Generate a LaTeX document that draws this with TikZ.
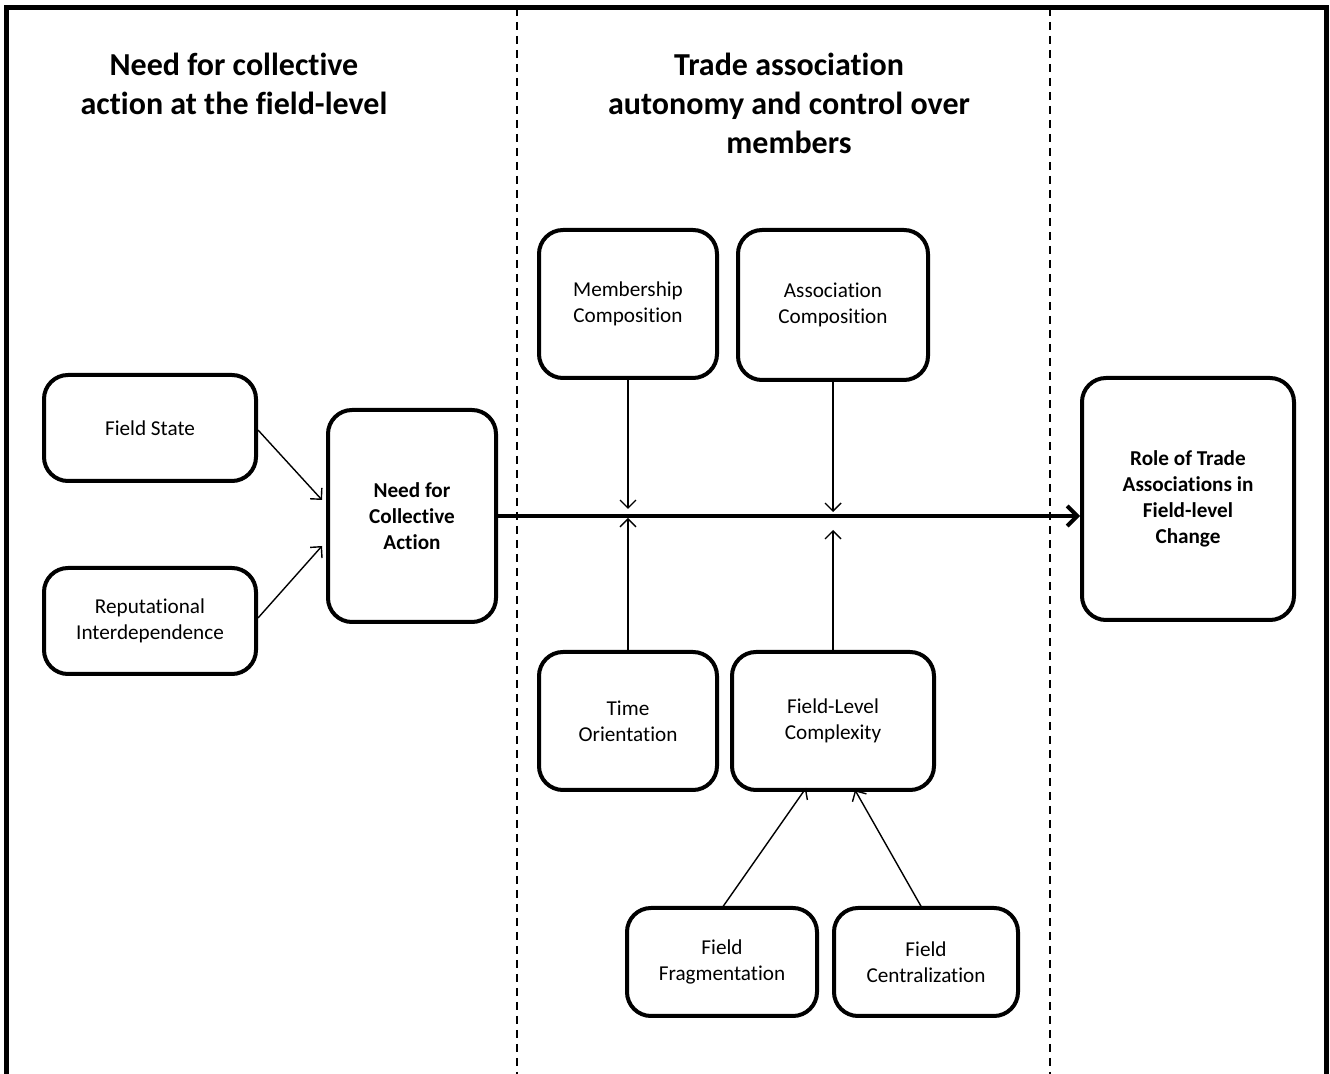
\documentclass[tikz,border=0pt]{standalone}
\usepackage{fontspec}
\setmainfont{Carlito}[Ligatures=NoCommon]
\usetikzlibrary{positioning, arrows.meta}
\tikzset{>={Straight Barb[length=4pt,width=8pt]},
  box/.style={draw, line width=2pt, rounded corners=12pt, align=center, font=\fontsize{10.6}{13}\selectfont},
  bigbox/.style={box, font=\fontsize{10.6}{13}\selectfont\bfseries},
  link/.style={->, line width=0.7pt},
  title/.style={align=center, font=\fontsize{16}{19.5}\selectfont\bfseries},
  divider/.style={dashed, line width=0.6pt, dash pattern=on 4pt off 3pt},}

\begin{document}
\begin{tikzpicture}[x=0.5pt, y=-0.5pt]
        \useasboundingbox (0,0) rectangle (1330,1074);
        % frame and columns
        \draw[line width=2.5pt] (6,1080) -- (6,8) -- (1326,8) -- (1326,1080);
        \draw[divider] (517,8) -- (517,1080);
        \draw[divider] (1050,8) -- (1050,1080);
        
        \node[title] (t1) at (234,84) {Need for collective\\action at the field-level};
        \node[title] (t2) at (789,103) {Trade association\\autonomy and control over\\members};
        
        \node[box, minimum width=106pt, minimum height=53pt] (fs) at (150,428) {Field State};
        \node[box, minimum width=106pt, minimum height=53pt] (ri) at (150,621) {Reputational\\Interdependence};
        \node[bigbox, minimum width=84pt, minimum height=106pt] (nca) at (412,516) {Need for\\Collective\\Action};
        \node[box, minimum width=89pt, minimum height=74pt] (mc) at (628,304) {Membership\\Composition};
        \node[box, minimum width=95pt, minimum height=75pt] (ac) at (833,305) {Association\\Composition};
        \node[box, minimum width=89pt, minimum height=69pt] (to) at (628,721) {Time\\Orientation};
        \node[box, minimum width=101pt, minimum height=69pt] (flc) at (833,721) {Field-Level\\Complexity};
        \node[box, minimum width=95pt, minimum height=54pt] (ff) at (722,962) {Field\\Fragmentation};
        \node[box, minimum width=92pt, minimum height=54pt] (fc) at (926,962) {Field\\Centralization};
        \node[bigbox, minimum width=106pt, minimum height=121pt] (role) at (1188,499) {Role of Trade\\Associations in\\Field-level\\Change};
        
        \coordinate (in1) at (322,500);
        \coordinate (in2) at (322,546);
        \coordinate (j1) at (628,509);
        \coordinate (j2) at (628,518);
        \coordinate (j3) at (833,512);
        \coordinate (j4) at (833,530);
        \coordinate (k1) at (806,788);
        \coordinate (k2) at (855,790);
        
        \draw[link] (fs.east |- 0,430) -- (in1);
        \draw[link] (ri.east |- 0,618) -- (in2);
        \draw[->, line width=2pt, >={Straight Barb[length=5pt,width=10pt]}] (nca.east) -- (nca.east -| role.west);
        \draw[link] (mc) -- (j1);
        \draw[link] (to) -- (j2);
        \draw[link] (ac) -- (j3);
        \draw[link] (flc) -- (j4);
        \draw[link] (ff.north |- 0,908) -- (k1);
        \draw[link] (922,908) -- (k2);
    \end{tikzpicture}
\end{document}
